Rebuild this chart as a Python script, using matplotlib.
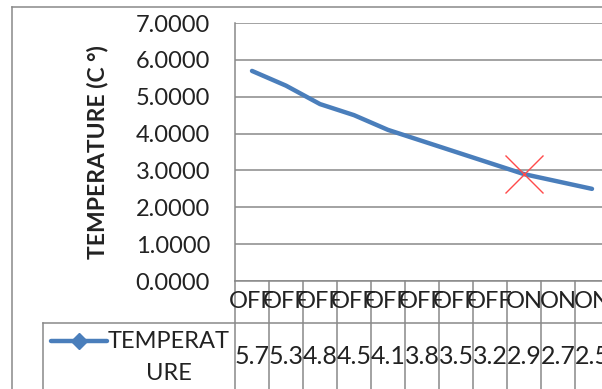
import matplotlib
matplotlib.use("Agg")
import matplotlib.pyplot as plt
from matplotlib.lines import Line2D

# data
states = ["OFF", "OFF", "OFF", "OFF", "OFF", "OFF", "OFF", "OFF", "ON", "ON", "ON"]
temperature = [5.7, 5.3, 4.8, 4.5, 4.1, 3.8, 3.5, 3.2, 2.9, 2.7, 2.5]
marked_idx = 8  # red cross on the first "ON" point
yticks = [0, 1, 2, 3, 4, 5, 6, 7]

blue = "#4a7ebb"
grid_gray = "#898989"
txt = "#222222"
plt.rcParams["font.family"] = ["Lato", "DejaVu Sans"]

W, H = 602, 389
fig = plt.figure(figsize=(W / 100, H / 100), dpi=100)

# plot area runs past the right edge of the picture (cropped chart)
left, bottom, top = 235, 281, 23
ncol = len(states)
colw = 34
ax = fig.add_axes([left / W, 1 - bottom / H, ncol * colw / W, (bottom - top) / H])

x = list(range(ncol))
ax.plot(x, temperature, color=blue, lw=3.2, solid_capstyle="round", zorder=3)
ax.plot(x[marked_idx], temperature[marked_idx], marker="x", color="#ff4b4b",
        markersize=28, markeredgewidth=1.0, zorder=4)

ax.set_xlim(-0.5, ncol - 0.5)
ax.set_ylim(0, 7)
ax.set_yticks(yticks)
ax.set_yticklabels([f"{v:.4f}" for v in yticks], fontsize=17, color=txt)
ax.tick_params(axis="y", length=0, pad=18)
ax.set_xticks([])
ax.grid(axis="y", color=grid_gray, lw=1.1)
ax.set_axisbelow(True)
for s in ["top", "right", "bottom"]:
    ax.spines[s].set_visible(False)
ax.spines["left"].set_color(grid_gray)
ax.spines["left"].set_linewidth(1.1)

fig.text(97 / W, 1 - 152 / H, "TEMPERATURE (C °)", rotation=90, fontsize=16.5,
         fontweight="bold", ha="center", va="center", color=txt)

# data table under the plot
tr = ax.get_xaxis_transform()
ph = bottom - top
row1 = -41 / ph
row_end = -(H - bottom + 10) / ph
for i in range(ncol + 1):
    ax.add_line(Line2D([i - 0.5, i - 0.5], [0, row_end], transform=tr,
                       color=grid_gray, lw=1.1, clip_on=False))
ax.add_line(Line2D([-0.5, ncol - 0.5], [0, 0], transform=tr,
                   color=grid_gray, lw=1.1, clip_on=False))
for i in range(ncol):
    ax.text(i, -20 / ph, states[i], transform=tr, ha="center", va="center",
            fontsize=17, color=txt, clip_on=False)
    ax.text(i, -76 / ph, f"{temperature[i]:.1f}", transform=tr,
            ha="center", va="center", fontsize=18, color=txt, clip_on=False)

# legend cell + row separator
fig.add_artist(Line2D([43 / W, 1], [1 - 323 / H] * 2, color=grid_gray, lw=1.1))
fig.add_artist(Line2D([43 / W, 43 / W], [1 - 323 / H, 0], color=grid_gray, lw=1.1))
fig.add_artist(Line2D([51 / W, 107 / W], [1 - 341 / H] * 2, color=blue, lw=3.2,
                      solid_capstyle="round"))
fig.add_artist(Line2D([79 / W], [1 - 341 / H], color=blue, marker="D",
                      markersize=8, lw=0))
fig.text(169 / W, 1 - 341 / H, "TEMPERAT", ha="center", va="center",
         fontsize=17, color=txt)
fig.text(169 / W, 1 - 373 / H, "URE", ha="center", va="center",
         fontsize=17, color=txt)

# outer chart border
fig.add_artist(Line2D([12 / W, 1], [1 - 7 / H] * 2, color=grid_gray, lw=1.1))
fig.add_artist(Line2D([12 / W, 12 / W], [1 - 7 / H, 0], color=grid_gray, lw=1.1))

fig.savefig("out.png", dpi=100)
